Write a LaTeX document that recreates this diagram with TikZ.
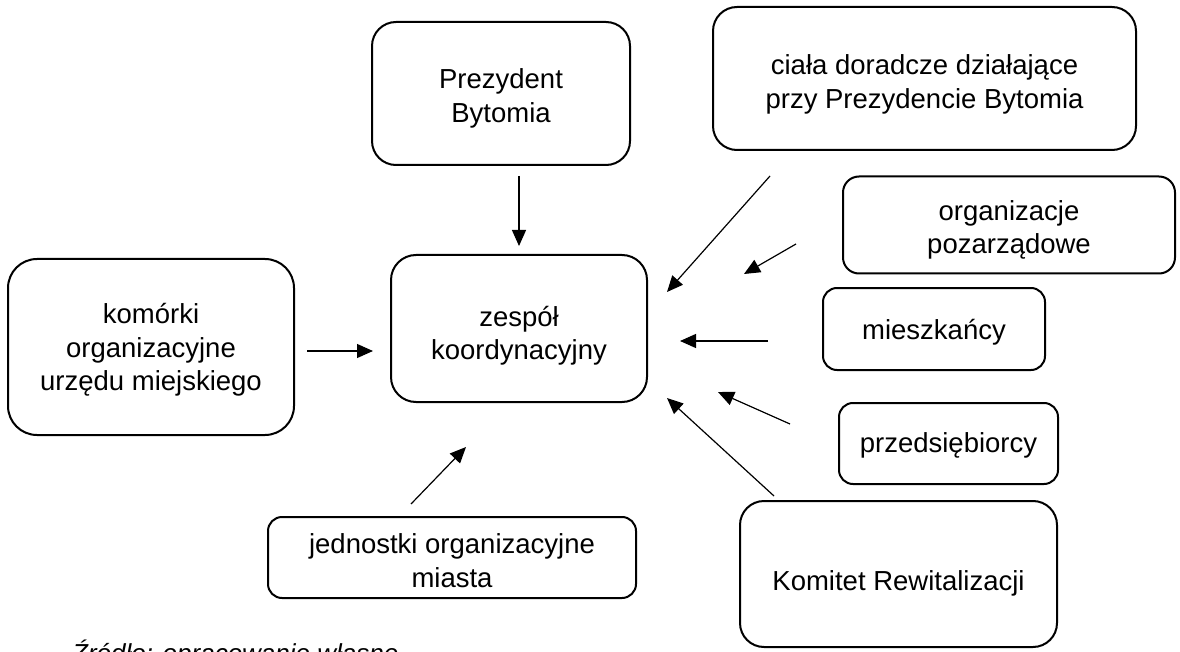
\documentclass[tikz,border=0pt]{standalone}
\usepackage{fontspec}
\setmainfont{Liberation Sans}
\usetikzlibrary{arrows.meta}

\begin{document}
\begin{tikzpicture}[x=1pt,y=-1pt,
  box/.style={draw=black, line width=2pt, inner sep=0pt},
  txt/.style={align=center, inner sep=0pt, font=\fontsize{27.5}{33.5}\selectfont},
  flow/.style={line width=1.2pt, -{Triangle[length=16pt,width=14pt]}}]

\useasboundingbox (0,0) rectangle (1180,652);
\clip (0,0) rectangle (1180,652);

% boxes (centre, size, corner radius about a sixth of the shorter side)
\node[box, minimum width=258pt, minimum height=143pt, rounded corners=24pt] (pres) at (501,93.5) {};
\node[box, minimum width=423pt, minimum height=143pt, rounded corners=24pt] (cial) at (924.5,78.5) {};
\node[box, minimum width=332pt, minimum height=97pt, rounded corners=16pt] (org) at (1009,225) {};
\node[box, minimum width=222pt, minimum height=82pt, rounded corners=14pt] (mie) at (934,329) {};
\node[box, minimum width=219pt, minimum height=81pt, rounded corners=14pt] (prz) at (948.5,443.5) {};
\node[box, minimum width=317pt, minimum height=146pt, rounded corners=24pt] (kom) at (898.5,574) {};
\node[box, minimum width=256pt, minimum height=147pt, rounded corners=25pt] (zes) at (519,328.5) {};
\node[box, minimum width=286pt, minimum height=176pt, rounded corners=29pt] (kmk) at (151,347) {};
\node[box, minimum width=368pt, minimum height=81pt, rounded corners=14pt] (jed) at (452,557.5) {};

% box texts, set slightly below the middle of each box
\node[txt, yshift=-5pt] (presT) at (pres.center) {Prezydent\\Bytomia};
\node[txt, yshift=-6pt] (cialT) at (cial.center) {ciała doradcze działające\\przy Prezydencie Bytomia};
\node[txt, yshift=-5pt] (orgT)  at (org.center)  {organizacje\\pozarządowe};
\node[txt, yshift=-3pt] (mieT)  at (mie.center)  {mieszkańcy};
\node[txt, yshift=-2pt] (przT)  at (prz.center)  {przedsiębiorcy};
\node[txt, yshift=-9pt] (komT)  at (kom.center)  {Komitet Rewitalizacji};
\node[txt, yshift=-7pt] (zesT)  at (zes.center)  {zespół\\koordynacyjny};
\node[txt, yshift=-3pt] (kmkT)  at (kmk.center)  {komórki\\organizacyjne\\urzędu miejskiego};
\node[txt, yshift=-3pt] (jedT)  at (jed.center)  {jednostki organizacyjne\\miasta};

% free-standing arrow ends
\coordinate (presA) at (519,176);  \coordinate (presB) at (519,246);
\coordinate (cialA) at (770,176);  \coordinate (cialB) at (667,292);
\coordinate (orgA)  at (796,244);  \coordinate (orgB)  at (744,274);
\coordinate (mieA)  at (768,341);  \coordinate (mieB)  at (680,341);
\coordinate (przA)  at (790,424);  \coordinate (przB)  at (718,392);
\coordinate (komA)  at (774,496);  \coordinate (komB)  at (667,398);
\coordinate (kmkA)  at (307,351);  \coordinate (kmkB)  at (373,351);
\coordinate (jedA)  at (411,504);  \coordinate (jedB)  at (466,447);

\draw[flow] (presA) -- (presB);
\draw[flow] (cialA) -- (cialB);
\draw[flow] (orgA) -- (orgB);
\draw[flow] (mieA) -- (mieB);
\draw[flow] (przA) -- (przB);
\draw[flow] (komA) -- (komB);
\draw[flow] (kmkA) -- (kmkB);
\draw[flow] (jedA) -- (jedB);

% source line, cut by the lower edge
\node[anchor=base west, inner sep=0pt, font=\fontsize{26}{30}\selectfont\itshape] (src) at (72,662) {Źródło: opracowanie własne};
\end{tikzpicture}
\end{document}
